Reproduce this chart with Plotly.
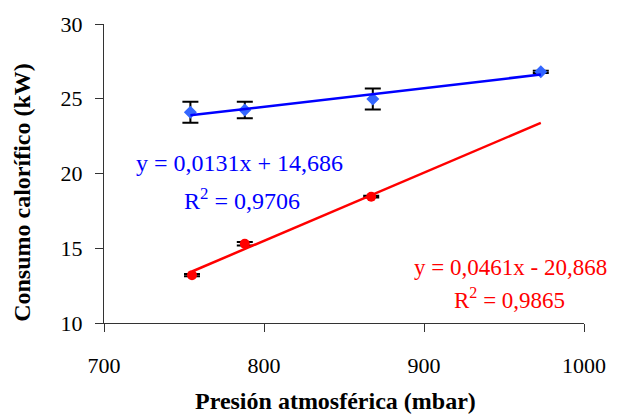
import numpy as np
import plotly.graph_objects as go

# Data
blue_x = [754, 788, 868, 973]
blue_y = [24.1, 24.25, 24.98, 26.8]
blue_err = [0.7, 0.55, 0.7, 0.08]

red_x = [755, 788, 867]
red_y = [13.2, 15.3, 18.45]
red_err = [0.08, 0.12, 0.06]
red_trend_end = 973  # trendline forecast forward

x_ticks = [700, 800, 900, 1000]
y_ticks = [10, 15, 20, 25, 30]

blue_eq = ["y = 0,0131x + 14,686", "R<sup>2</sup> = 0,9706"]
red_eq = ["y = 0,0461x - 20,868", "R<sup>2</sup> = 0,9865"]

FONT = "Liberation Serif, Times New Roman, serif"

fig = go.Figure()

# Blue series
fig.add_trace(go.Scatter(
    x=blue_x, y=blue_y, mode="markers",
    marker=dict(symbol="diamond", size=10, color="#3366FF"),
    error_y=dict(type="data", array=blue_err, color="black", thickness=2, width=8),
    showlegend=False))
# Red series
fig.add_trace(go.Scatter(
    x=red_x, y=red_y, mode="markers",
    marker=dict(symbol="circle", size=10, color="#FF0000"),
    error_y=dict(type="data", array=red_err, color="black", thickness=2, width=8),
    showlegend=False))

# Trendlines
bs, bi = np.polyfit(blue_x, blue_y, 1)
bx = [min(blue_x), max(blue_x)]
fig.add_trace(go.Scatter(x=bx, y=[bs * v + bi for v in bx], mode="lines",
                         line=dict(color="#0000FF", width=2.5), showlegend=False))
rs, ri = np.polyfit(red_x, red_y, 1)
rx = [min(red_x), red_trend_end]
fig.add_trace(go.Scatter(x=rx, y=[rs * v + ri for v in rx], mode="lines",
                         line=dict(color="#FF0000", width=2.5), showlegend=False))

axis_common = dict(showline=True, linecolor="#333333", linewidth=1, showgrid=False,
                   zeroline=False, ticks="outside", ticklen=8, tickcolor="#333333",
                   tickfont=dict(family=FONT, size=22, color="black"))
fig.update_xaxes(range=[700, 1000], tickvals=x_ticks, ticklabelstandoff=15, **axis_common)
fig.update_yaxes(range=[10, 30], tickvals=y_ticks, ticklabelstandoff=8, **axis_common)

anns = [
    dict(text=blue_eq[0], x=241, y=160, color="#0000FF", size=24),
    dict(text=blue_eq[1], x=243, y=197, color="#0000FF", size=24),
    dict(text=red_eq[0], x=514, y=267, color="#FF0000", size=23),
    dict(text=red_eq[1], x=513, y=298, color="#FF0000", size=23),
]
for a in anns:
    fig.add_annotation(text=a["text"], xref="paper", yref="paper",
                       x=(a["x"] - 104) / (588 - 104), y=(323 - a["y"]) / (323 - 19),
                       xanchor="center", yanchor="middle", showarrow=False,
                       font=dict(family=FONT, size=a["size"], color=a["color"]))

fig.add_annotation(text="<b>Presión atmosférica (mbar)</b>", xref="paper", yref="paper",
                   x=(337 - 104) / (588 - 104), y=(323 - 402) / (323 - 19),
                   xanchor="center", yanchor="middle", showarrow=False,
                   font=dict(family=FONT, size=24, color="black"))
fig.add_annotation(text="<b>Consumo calorífico (kW)</b>", xref="paper", yref="paper",
                   x=(22 - 104) / (588 - 104), y=(323 - 190) / (323 - 19), textangle=-90,
                   xanchor="center", yanchor="middle", showarrow=False,
                   font=dict(family=FONT, size=24, color="black"))

fig.update_layout(width=618, height=414, margin=dict(l=104, r=30, t=19, b=91),
                  plot_bgcolor="white", paper_bgcolor="white",
                  font=dict(family=FONT, color="black"))

fig.write_html("out.html")
